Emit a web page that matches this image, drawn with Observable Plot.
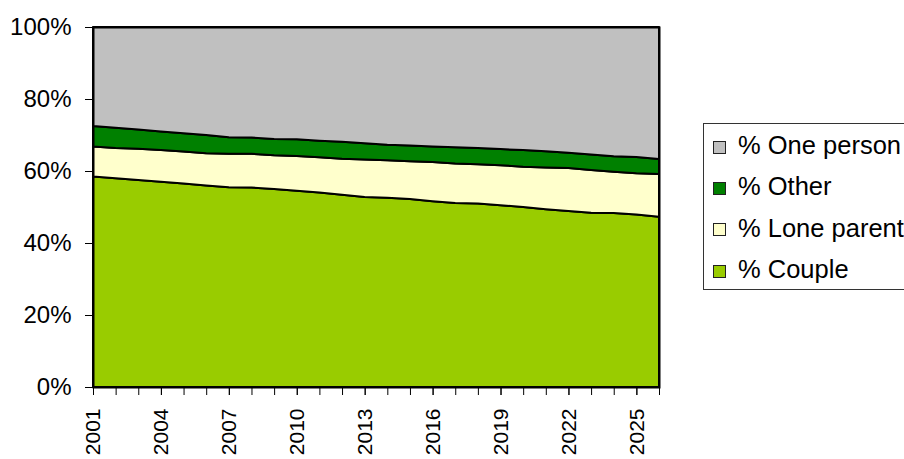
<!DOCTYPE html>
<html>
<head>
<meta charset="utf-8">
<script src="https://cdn.jsdelivr.net/npm/d3@7"></script>
<script src="https://cdn.jsdelivr.net/npm/@observablehq/plot@0.6"></script>
<style>
  html, body { margin: 0; padding: 0; background: #fff; }
  #wrap { position: relative; width: 904px; height: 459px; overflow: hidden; font-family: "Liberation Sans", Arial, sans-serif; }
  #legend { position: absolute; left: 703px; top: 123px; width: 240px; height: 167px; border: 1.5px solid #333; box-sizing: border-box; padding-top: 1px; background: #fff; }
  .row { height: 41.3px; display: flex; align-items: center; font-size: 25.5px; color: #000; white-space: nowrap; }
  .sw { width: 11px; height: 11px; border: 1px solid #222; margin-left: 9px; margin-right: 12px; margin-top: 3px; flex: none; }
</style>
</head>
<body>
<div id="wrap"><div id="chart"></div><div id="legend"></div></div>
<script>
const years = d3.range(2001, 2027);
const labelYears = [2001, 2004, 2007, 2010, 2013, 2016, 2019, 2022, 2025];
const yTicks = [0, 20, 40, 60, 80, 100];

const series = ["Couple", "Lone parent", "Other", "One person"];
const legendOrder = ["One person", "Other", "Lone parent", "Couple"];
const colors = ["#99CC00", "#FFFFCC", "#008000", "#C0C0C0"];

const couple     = [58.5,58.0,57.5,57.0,56.5,56.0,55.5,55.4,55.0,54.5,54.0,53.4,52.8,52.6,52.2,51.6,51.1,51.0,50.5,50.0,49.4,48.9,48.4,48.3,47.9,47.3];
const loneParent = [8.3,8.4,8.7,8.8,8.9,8.9,9.3,9.4,9.4,9.7,9.8,10.0,10.4,10.4,10.5,10.9,11.0,10.9,11.1,11.2,11.6,11.9,11.9,11.5,11.5,11.9];
const other      = [5.7,5.6,5.3,5.2,5.1,5.1,4.6,4.5,4.5,4.6,4.6,4.7,4.5,4.3,4.4,4.3,4.5,4.5,4.5,4.6,4.5,4.3,4.3,4.3,4.5,4.1];
const onePerson  = [27.5,28.0,28.5,29.0,29.5,30.0,30.6,30.7,31.1,31.2,31.6,31.9,32.3,32.7,32.9,33.2,33.4,33.6,33.9,34.2,34.5,34.9,35.4,35.9,36.1,36.7];

const valuesBySeries = {"Couple": couple, "Lone parent": loneParent, "Other": other, "One person": onePerson};
const table = [];
for (const s of series) {
  years.forEach((yr, i) => table.push({year: yr, type: s, value: valuesBySeries[s][i]}));
}

const chart = Plot.plot({
  width: 904,
  height: 459,
  marginLeft: 93,
  marginRight: 245,
  marginTop: 27,
  marginBottom: 72,
  style: {fontFamily: "'Liberation Sans', Arial, sans-serif", fontSize: "24px", color: "#000", background: "#fff"},
  x: {type: "linear", domain: [2001, 2026]},
  y: {domain: [0, 100]},
  color: {domain: series, range: colors},
  marks: [
    Plot.areaY(table, {x: "year", y: "value", z: "type", fill: "type", order: series, stroke: "#000", strokeWidth: 2, strokeLinejoin: "round"}),
    Plot.frame({stroke: "#000", strokeWidth: 2}),
    Plot.axisY({ticks: yTicks, tickFormat: d => d + "%", tickSize: 8, tickPadding: 14, label: null, fontSize: 24, stroke: "#000"}),
    Plot.axisX({ticks: years, tickSize: 8, tickFormat: () => "", label: null, stroke: "#000"}),
    Plot.axisX({ticks: labelYears, tickSize: 8, tickPadding: 13, tickRotate: -90, tickFormat: d => String(d), label: null, fontSize: 21, stroke: "#000"})
  ]
});
document.getElementById("chart").appendChild(chart);

const legend = document.getElementById("legend");
for (const s of legendOrder) {
  const row = document.createElement("div");
  row.className = "row";
  const sw = document.createElement("span");
  sw.className = "sw";
  sw.style.background = colors[series.indexOf(s)];
  const t = document.createElement("span");
  t.textContent = "% " + s;
  row.appendChild(sw);
  row.appendChild(t);
  legend.appendChild(row);
}
</script>
</body>
</html>
